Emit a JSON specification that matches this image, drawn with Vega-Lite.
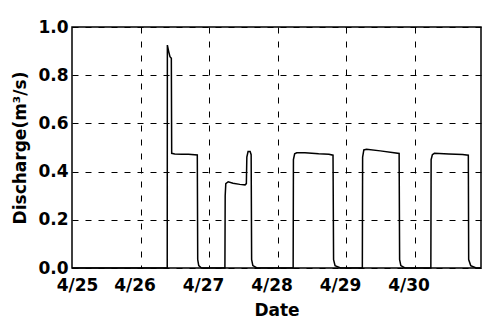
{
  "$schema": "https://vega.github.io/schema/vega-lite/v6.json",
  "autosize": {"type": "none"},
  "width": 409,
  "height": 241,
  "padding": {"left": 72, "top": 27, "right": 8, "bottom": 60},
  "background": "white",
  "config": {
    "view": {"stroke": "black", "strokeWidth": 1.5},
    "axis": {
      "labelFont": "DejaVu Sans",
      "labelFontWeight": "bold",
      "labelFontSize": 17,
      "labelColor": "black",
      "titleFont": "DejaVu Sans",
      "titleFontWeight": "bold",
      "titleFontSize": 17,
      "titleColor": "black",
      "domain": false,
      "ticks": false,
      "gridColor": "black",
      "gridWidth": 1,
      "gridOpacity": 1,
      "labelOverlap": false,
      "labelBound": false,
      "labelFlush": false
    }
  },
  "data": {
    "values": [
      {"t": 0, "q": 0},
      {"t": 1.39, "q": 0},
      {"t": 1.392, "q": 0.925},
      {"t": 1.41, "q": 0.9},
      {"t": 1.43, "q": 0.877},
      {"t": 1.45, "q": 0.87},
      {"t": 1.455, "q": 0.476},
      {"t": 1.5, "q": 0.473},
      {"t": 1.6, "q": 0.472},
      {"t": 1.7, "q": 0.472},
      {"t": 1.829, "q": 0.469},
      {"t": 1.835, "q": 0.035},
      {"t": 1.85, "q": 0.01},
      {"t": 1.89, "q": 0},
      {"t": 2.232, "q": 0},
      {"t": 2.236, "q": 0.3},
      {"t": 2.245, "q": 0.35},
      {"t": 2.28, "q": 0.358},
      {"t": 2.35, "q": 0.352},
      {"t": 2.45, "q": 0.347},
      {"t": 2.526, "q": 0.345},
      {"t": 2.545, "q": 0.35},
      {"t": 2.552, "q": 0.46},
      {"t": 2.57, "q": 0.483},
      {"t": 2.6, "q": 0.483},
      {"t": 2.615, "q": 0.47},
      {"t": 2.622, "q": 0.035},
      {"t": 2.64, "q": 0.01},
      {"t": 2.7, "q": 0},
      {"t": 3.228, "q": 0},
      {"t": 3.232, "q": 0.45},
      {"t": 3.25, "q": 0.474},
      {"t": 3.28, "q": 0.478},
      {"t": 3.4, "q": 0.478},
      {"t": 3.5, "q": 0.476},
      {"t": 3.6, "q": 0.474},
      {"t": 3.75, "q": 0.472},
      {"t": 3.81, "q": 0.468},
      {"t": 3.818, "q": 0.035},
      {"t": 3.84, "q": 0.01},
      {"t": 3.92, "q": 0},
      {"t": 4.238, "q": 0},
      {"t": 4.242, "q": 0.46},
      {"t": 4.26, "q": 0.49},
      {"t": 4.3, "q": 0.493},
      {"t": 4.5, "q": 0.486},
      {"t": 4.7, "q": 0.478},
      {"t": 4.775, "q": 0.475},
      {"t": 4.782, "q": 0.035},
      {"t": 4.8, "q": 0.01},
      {"t": 4.86, "q": 0},
      {"t": 5.238, "q": 0},
      {"t": 5.242, "q": 0.45},
      {"t": 5.26, "q": 0.47},
      {"t": 5.29, "q": 0.476},
      {"t": 5.5, "q": 0.473},
      {"t": 5.7, "q": 0.471},
      {"t": 5.785, "q": 0.468},
      {"t": 5.79, "q": 0.035},
      {"t": 5.82, "q": 0.01},
      {"t": 5.9, "q": 0},
      {"t": 5.97, "q": 0}
    ]
  },
  "mark": {"type": "line", "color": "black", "strokeWidth": 1.5, "interpolate": "linear"},
  "encoding": {
    "x": {
      "field": "t",
      "type": "quantitative",
      "scale": {"domain": [0, 5.97], "nice": false, "zero": false},
      "axis": {
        "title": "Date",
        "values": [0, 1, 2, 3, 4, 5],
        "labelExpr": "'4/' + (25 + datum.value)",
        "labelPadding": 9,
        "titlePadding": 9,
        "labelOffset": {"condition": {"test": "datum.value == 0", "value": 5}, "value": -6},
        "gridDash": [6, 8],
        "gridOpacity": {"condition": {"test": "datum.value == 0", "value": 0}, "value": 1}
      }
    },
    "y": {
      "field": "q",
      "type": "quantitative",
      "scale": {"domain": [0, 1], "nice": false},
      "axis": {
        "title": "Discharge(m³/s)",
        "values": [0, 0.2, 0.4, 0.6, 0.8, 1.0],
        "format": ".1f",
        "labelPadding": 4,
        "titlePadding": 8,
        "gridDash": [6, 7]
      }
    }
  }
}
